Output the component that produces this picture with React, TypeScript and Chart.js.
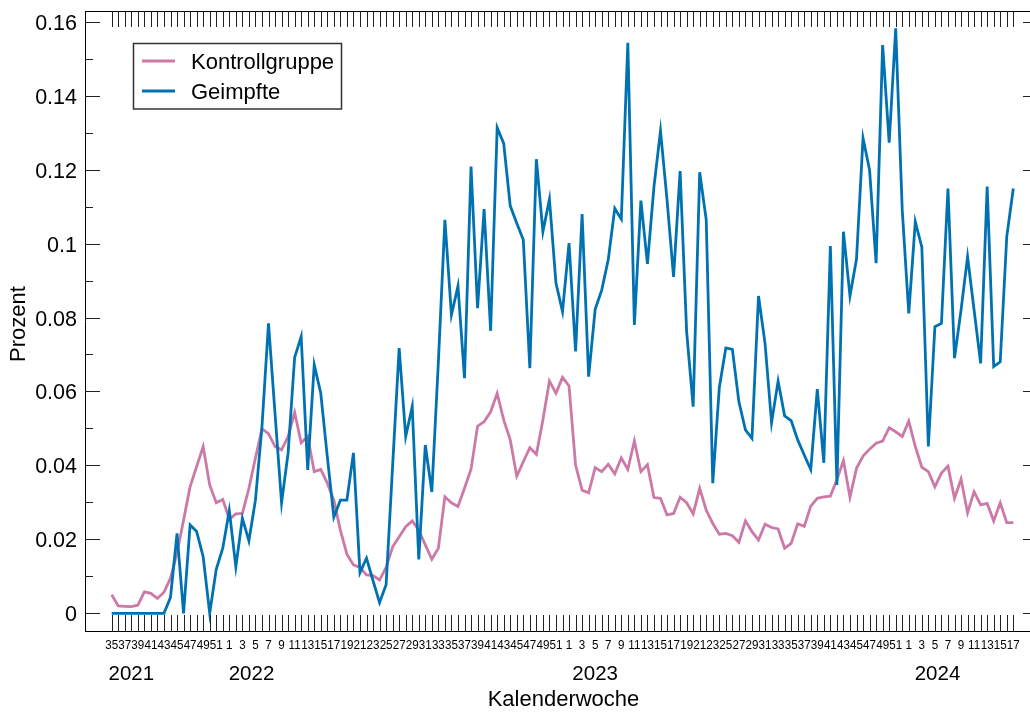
import React, { useEffect, useRef } from "react";
import { Chart, registerables } from "chart.js";

Chart.register(...registerables);

// ---- data (weekly, 2021 W35 .. 2024 W17) ----
const yearSpans: [number, number, number][] = [
  [2021, 35, 52],
  [2022, 1, 52],
  [2023, 1, 52],
  [2024, 1, 17],
];
const weekLabels: number[] = yearSpans.flatMap(([, a, b]) =>
  Array.from({ length: b - a + 1 }, (_, k) => a + k)
);

const kontrollgruppe: number[] = [
  0.0050, 0.0020, 0.0019, 0.0018, 0.0022, 0.0058, 0.0054, 0.0040, 0.0057, 0.0095,
  0.0163, 0.0252, 0.0342, 0.0397, 0.0451, 0.0347, 0.0299, 0.0308, 0.0254, 0.0269,
  0.0270, 0.0338, 0.0420, 0.0499, 0.0486, 0.0451, 0.0442, 0.0478, 0.0543, 0.0461,
  0.0478, 0.0383, 0.0389, 0.0352, 0.0306, 0.0225, 0.0160, 0.0131, 0.0124, 0.0104,
  0.0102, 0.0090, 0.0124, 0.0180, 0.0207, 0.0234, 0.0250, 0.0225, 0.0185, 0.0146,
  0.0176, 0.0315, 0.0299, 0.0289, 0.0338, 0.0390, 0.0506, 0.0518, 0.0545, 0.0595,
  0.0523, 0.0469, 0.0371, 0.0410, 0.0448, 0.0430, 0.0523, 0.0628, 0.0595, 0.0638,
  0.0615, 0.0401, 0.0333, 0.0326, 0.0394, 0.0383, 0.0403, 0.0377, 0.0420, 0.0389,
  0.0466, 0.0383, 0.0402, 0.0313, 0.0311, 0.0266, 0.0270, 0.0314, 0.0299, 0.0269,
  0.0338, 0.0279, 0.0243, 0.0214, 0.0216, 0.0210, 0.0192, 0.0250, 0.0221, 0.0198,
  0.0241, 0.0232, 0.0228, 0.0176, 0.0189, 0.0242, 0.0235, 0.0290, 0.0311, 0.0315,
  0.0317, 0.0361, 0.0413, 0.0314, 0.0392, 0.0425, 0.0444, 0.0460, 0.0466, 0.0502,
  0.0491, 0.0478, 0.0520, 0.0451, 0.0395, 0.0383, 0.0342, 0.0379, 0.0398, 0.0311,
  0.0363, 0.0272, 0.0329, 0.0293, 0.0297, 0.0250, 0.0299, 0.0245, 0.0245,
];

const geimpfte: number[] = [
  0, 0, 0, 0, 0, 0, 0, 0, 0, 0.0043,
  0.0216, 0, 0.0239, 0.0221, 0.0153, 0, 0.0119, 0.0176, 0.0278, 0.0126,
  0.0257, 0.0196, 0.0306, 0.0505, 0.0784, 0.0540, 0.0299, 0.0433, 0.0692, 0.0748,
  0.0388, 0.0672, 0.0595, 0.0424, 0.0260, 0.0306, 0.0306, 0.0434, 0.0110, 0.0149,
  0.0088, 0.0029, 0.0077, 0.0400, 0.0717, 0.0478, 0.0559, 0.0146, 0.0455, 0.0328,
  0.0680, 0.1064, 0.0807, 0.0885, 0.0636, 0.1208, 0.0825, 0.1093, 0.0764, 0.1313,
  0.1271, 0.1102, 0.1055, 0.1010, 0.0663, 0.1228, 0.1032, 0.1120, 0.0893, 0.0816,
  0.1001, 0.0708, 0.1080, 0.0640, 0.0822, 0.0874, 0.0956, 0.1095, 0.1066, 0.1543,
  0.0780, 0.1116, 0.0945, 0.1154, 0.1305, 0.1118, 0.0910, 0.1196, 0.0762, 0.0559,
  0.1193, 0.1064, 0.0352, 0.0610, 0.0718, 0.0714, 0.0572, 0.0496, 0.0473, 0.0858,
  0.0730, 0.0516, 0.0628, 0.0534, 0.0521, 0.0469, 0.0428, 0.0389, 0.0606, 0.0407,
  0.0993, 0.0347, 0.1032, 0.0858, 0.0958, 0.1285, 0.1199, 0.0947, 0.1537, 0.1273,
  0.1582, 0.1091, 0.0811, 0.1059, 0.0990, 0.0451, 0.0775, 0.0784, 0.1149, 0.0690,
  0.0820, 0.0964, 0.0820, 0.0676, 0.1154, 0.0667, 0.0680, 0.1019, 0.1149,
];

const seriesNames = ["Kontrollgruppe", "Geimpfte"];
const seriesColors = ["#CC79A7", "#0072B2"];
const yearLabels = ["2021", "2022", "2023", "2024"];
const yearLabelAt = [3.0, 21.4, 74.0, 126.4]; // week index under which the year is centred
const yTickValues = [0, 0.01, 0.02, 0.03, 0.04, 0.05, 0.06, 0.07, 0.08, 0.09, 0.1, 0.11, 0.12, 0.13, 0.14, 0.15, 0.16];
const yTickLabels: Record<string, string> = {
  "0": "0", "0.02": "0.02", "0.04": "0.04", "0.06": "0.06", "0.08": "0.08",
  "0.1": "0.1", "0.12": "0.12", "0.14": "0.14", "0.16": "0.16",
};
const xTitle = "Kalenderwoche";
const yTitle = "Prozent";

const FONT = "'Liberation Sans', Arial, Helvetica, sans-serif";

const frameAxesPlugin = {
  id: "frameAxes",
  afterDraw(chart: any) {
    const { ctx, chartArea: a, scales } = chart;
    const xs = scales.x;
    const ys = scales.y;
    ctx.save();
    ctx.strokeStyle = "#000";
    ctx.lineWidth = 1;
    ctx.beginPath();
    ctx.moveTo(a.left + 0.5, a.top);
    ctx.lineTo(a.left + 0.5, a.bottom);
    ctx.moveTo(a.left, a.top + 0.5);
    ctx.lineTo(a.right, a.top + 0.5);
    ctx.moveTo(a.left, a.bottom - 0.5);
    ctx.lineTo(a.right, a.bottom - 0.5);
    ctx.stroke();

    // week ticks top & bottom (inward)
    ctx.strokeStyle = "#222";
    ctx.beginPath();
    for (let i = 0; i < weekLabels.length; i++) {
      const px = Math.round(xs.getPixelForValue(i)) + 0.5;
      ctx.moveTo(px, a.top);
      ctx.lineTo(px, a.top + 16);
      ctx.moveTo(px, a.bottom);
      ctx.lineTo(px, a.bottom - 17);
    }
    // y ticks left (major/minor) & right (major)
    yTickValues.forEach((v) => {
      const py = Math.round(ys.getPixelForValue(v)) + 0.5;
      const major = yTickLabels[String(v)] !== undefined;
      ctx.moveTo(a.left, py);
      ctx.lineTo(a.left + (major ? 15 : 8), py);
      if (major) {
        ctx.moveTo(a.right, py);
        ctx.lineTo(a.right - 7, py);
      }
    });
    ctx.stroke();

    ctx.fillStyle = "#000";
    // y tick labels
    ctx.font = `21.5px ${FONT}`;
    ctx.textAlign = "right";
    ctx.textBaseline = "alphabetic";
    yTickValues.forEach((v) => {
      const lab = yTickLabels[String(v)];
      if (lab === undefined) return;
      ctx.fillText(lab, a.left - 8, ys.getPixelForValue(v) + 8);
    });

    // week labels (odd weeks)
    ctx.font = `12px ${FONT}`;
    ctx.textAlign = "center";
    weekLabels.forEach((w, i) => {
      if (w % 2 === 0) return;
      ctx.save();
      ctx.translate(xs.getPixelForValue(i), a.bottom + 17);
      ctx.scale(0.97, 1);
      ctx.fillText(String(w), 0, 0);
      ctx.restore();
    });

    // year labels
    ctx.font = `20.5px ${FONT}`;
    yearLabels.forEach((yl, k) => {
      ctx.fillText(yl, xs.getPixelForValue(yearLabelAt[k]), a.bottom + 48);
    });

    // axis titles
    ctx.font = `22px ${FONT}`;
    ctx.fillText(xTitle, 563.5, a.bottom + 74);
    ctx.save();
    ctx.translate(25, 324);
    ctx.rotate(-Math.PI / 2);
    ctx.fillText(yTitle, 0, 0);
    ctx.restore();

    // legend
    ctx.strokeStyle = "#333";
    ctx.lineWidth = 1.5;
    ctx.strokeRect(133.5, 43.5, 208, 65.5);
    ctx.textAlign = "left";
    seriesNames.forEach((name, k) => {
      const cy = 61 + k * 30;
      ctx.strokeStyle = seriesColors[k];
      ctx.lineWidth = 3;
      ctx.beginPath();
      ctx.moveTo(142, cy);
      ctx.lineTo(175, cy);
      ctx.stroke();
      ctx.fillStyle = "#000";
      ctx.fillText(name, 191, cy + 7.5);
    });
    ctx.restore();
  },
};

export default function App() {
  const canvasRef = useRef<HTMLCanvasElement | null>(null);

  useEffect(() => {
    document.body.style.margin = "0";
    const canvas = canvasRef.current;
    if (!canvas) return;
    const toPoints = (arr: number[]) => arr.map((v, i) => ({ x: i, y: v }));
    const chart = new Chart(canvas, {
      type: "line",
      data: {
        datasets: [
          {
            label: seriesNames[0],
            data: toPoints(kontrollgruppe),
            borderColor: seriesColors[0],
            backgroundColor: seriesColors[0],
            borderWidth: 2.8,
            pointRadius: 0,
            tension: 0,
            order: 1,
          },
          {
            label: seriesNames[1],
            data: toPoints(geimpfte),
            borderColor: seriesColors[1],
            backgroundColor: seriesColors[1],
            borderWidth: 2.8,
            pointRadius: 0,
            tension: 0,
            order: 0,
          },
        ],
      },
      options: {
        responsive: false,
        animation: false,
        devicePixelRatio: 1,
        layout: { padding: { left: 85, top: 11, right: 0, bottom: 81 } },
        plugins: { legend: { display: false }, tooltip: { enabled: false } },
        scales: {
          x: { type: "linear", min: -4.087, max: 140.556, display: false },
          y: { type: "linear", min: -0.005057, max: 0.162894, display: false },
        },
      },
      plugins: [frameAxesPlugin],
    });
    return () => chart.destroy();
  }, []);

  return (
    <div style={{ width: 1030, height: 713, background: "#fff" }}>
      <canvas ref={canvasRef} width={1030} height={713} style={{ display: "block" }} />
    </div>
  );
}
